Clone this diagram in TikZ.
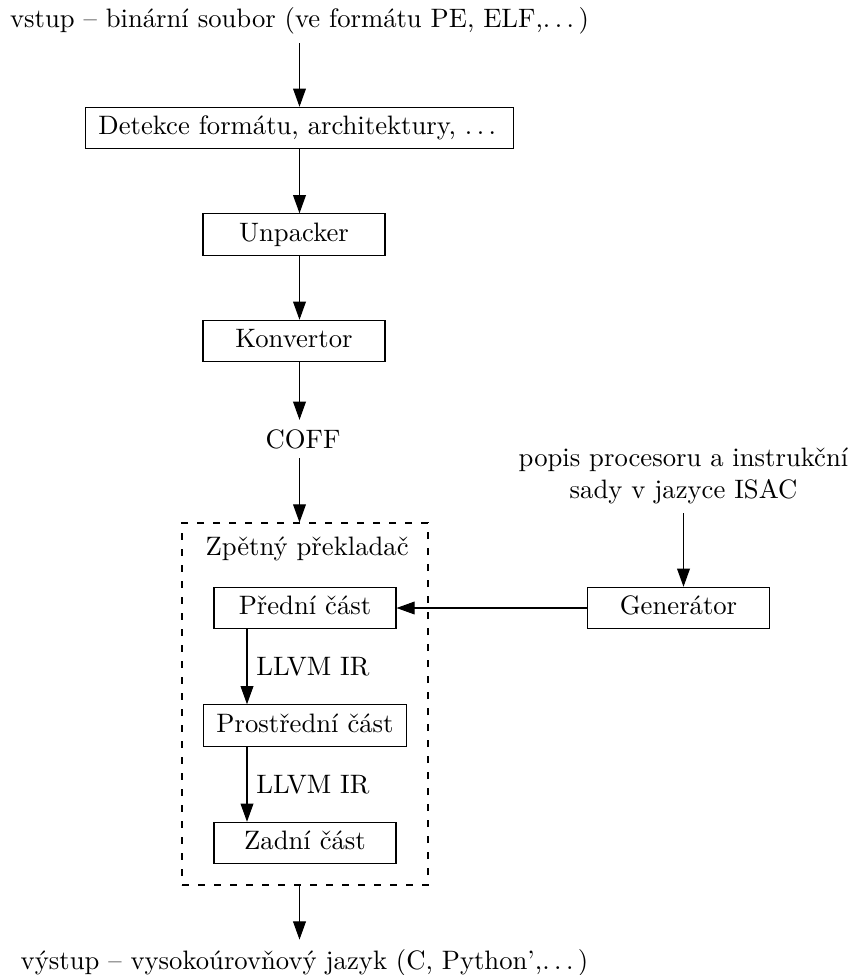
\documentclass[tikz,border=0pt]{standalone}
\usepackage{fontspec}
\usetikzlibrary{arrows.meta}
% spaced ellipsis in the classic text style
\newcommand{\spdots}{.\kern.1667em.\kern.1667em.\kern.1667em}
\begin{document}
\begin{tikzpicture}[x=0.375pt,y=-0.375pt,
  block/.style={draw, minimum width=68.25pt, text height=6.94pt, text depth=1.94pt, inner xsep=5pt, inner ysep=3.33pt},
  flow/.style={-{Triangle[length=6.8pt,width=4.8pt]}},
  caption/.style={inner sep=3.33pt},
  group/.style={draw, dash pattern=on 2.6pt off 3.4pt, inner sep=0pt}]
\useasboundingbox (0,0) rectangle (851,975);

% reference columns for the vertical connectors
\coordinate (axis) at (299.5,0);
\coordinate (inner) at (247,0);

% main pipeline
\node[caption, anchor=base] (in) at (299.5,27) {vstup – binární soubor (ve formátu PE, ELF,\spdots)};
\node[block] (det) at (299.5,128) {Detekce formátu, architektury, \spdots};
\node[block] (unp) at (294,234.5) {Unpacker};
\node[block] (konv) at (294,341) {Konvertor};
\node[caption, anchor=base] (coff) at (303,448) {COFF};

% decompiler group
\node[group, minimum width=92.25pt, minimum height=135.75pt] (dec) at (305,704) {};
\node[inner sep=0pt, anchor=base west] (declabel) at (205,555) {Zpětný překladač};
\node[block] (front) at (305,608) {Přední část};
\node[block] (mid) at (305,725.5) {Prostřední část};
\node[block] (back) at (305,843) {Zadní část};

% generator branch
\node[caption, align=center] (isac) at (683.5,476) {popis procesoru a instrukční\\sady v jazyce ISAC};
\node[block] (gen) at (678.5,608) {Generátor};

% output
\node[caption, anchor=base] (out) at (304.5,969) {výstup – vysokoúrovňový jazyk (C, Python’,\spdots)};

% connectors
\draw[flow] (in.south -| axis) -- (det.north -| axis);
\draw[flow] (det.south -| axis) -- (unp.north -| axis);
\draw[flow] (unp.south -| axis) -- (konv.north -| axis);
\draw[flow] (konv.south -| axis) -- (coff.north -| axis);
\draw[flow] (coff.south -| axis) -- (dec.north -| axis);
\draw[flow] (front.south -| inner) -- node[right] {LLVM IR} (mid.north -| inner);
\draw[flow] (mid.south -| inner) -- node[right] {LLVM IR} (back.north -| inner);
\draw[flow] (dec.south -| axis) -- (out.north -| axis);
\draw[flow] (isac.south) -- (isac.south |- gen.north);
\draw[flow] (gen.west) -- (front.east);
\end{tikzpicture}
\end{document}
